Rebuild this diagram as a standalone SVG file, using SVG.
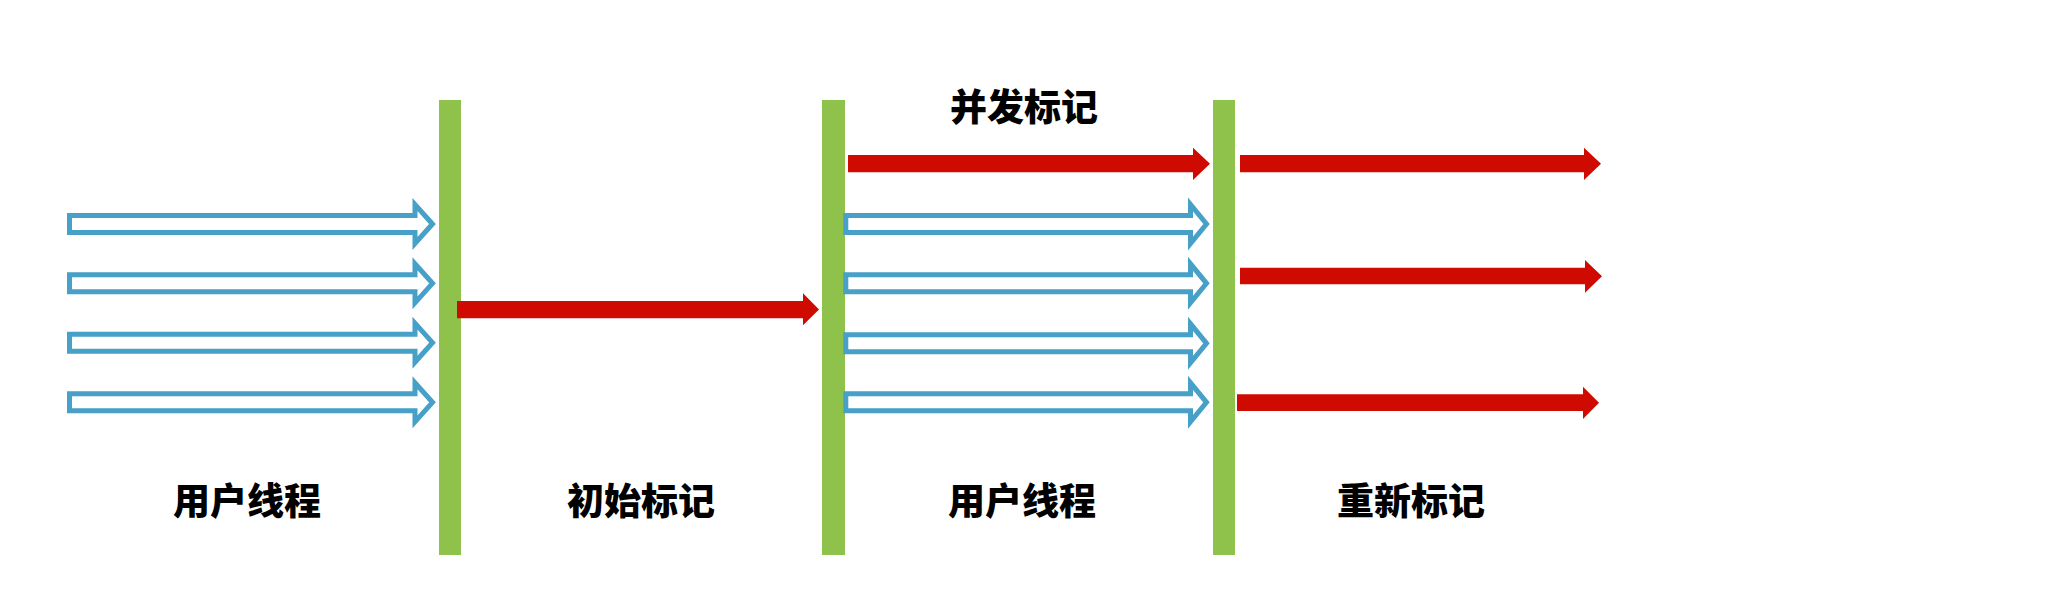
<svg xmlns="http://www.w3.org/2000/svg" width="2061" height="597" viewBox="0 0 2061 597">
<style>
.bar{fill:#8FC24A}
.blue{fill:#FFFFFF;stroke:#46A0C8;stroke-width:5;stroke-linejoin:miter}
.red{fill:#CF0A00}
.lbl{font-family:"Noto Sans CJK SC","Noto Sans",sans-serif;font-weight:900;font-size:37px;fill:#000000;text-anchor:middle}
</style>
<rect width="2061" height="597" fill="#FFFFFF"/>
<g id="bar1"><rect class="bar" x="439" y="100" width="22" height="455"/></g>
<g id="bar2"><rect class="bar" x="822" y="100" width="23" height="455"/></g>
<g id="bar3"><rect class="bar" x="1213" y="100" width="22" height="455"/></g>
<g id="connectors">
<polygon class="blue" points="69.5,215.5 415,215.5 415,204.5 432.5,224 415,243.5 415,232.5 69.5,232.5"/>
<polygon class="blue" points="69.5,274.8 415,274.8 415,263.8 432.5,283.3 415,302.8 415,291.8 69.5,291.8"/>
<polygon class="blue" points="69.5,334.2 415,334.2 415,323.2 432.5,342.7 415,362.2 415,351.2 69.5,351.2"/>
<polygon class="blue" points="69.5,393.8 415,393.8 415,382.8 432.5,402.3 415,421.8 415,410.8 69.5,410.8"/>
<polygon class="blue" points="845.8,215.5 1190.5,215.5 1190.5,204.5 1206.5,224 1190.5,243.5 1190.5,232.5 845.8,232.5"/>
<polygon class="blue" points="845.8,274.8 1190.5,274.8 1190.5,263.8 1206.5,283.3 1190.5,302.8 1190.5,291.8 845.8,291.8"/>
<polygon class="blue" points="845.8,334.8 1190.5,334.8 1190.5,323.8 1206.5,343.3 1190.5,362.8 1190.5,351.8 845.8,351.8"/>
<polygon class="blue" points="845.8,393.8 1190.5,393.8 1190.5,382.8 1206.5,402.3 1190.5,421.8 1190.5,410.8 845.8,410.8"/>
<polygon class="red" points="457,301 803,301 803,293.3 819,309.6 803,325.3 803,318.3 457,318.3"/>
<polygon class="red" points="848,155 1193,155 1193,147.7 1210,163.8 1193,180 1193,172.3 848,172.3"/>
<polygon class="red" points="1240,155 1584,155 1584,147.7 1601,163.8 1584,180 1584,172.3 1240,172.3"/>
<polygon class="red" points="1240,267.7 1585,267.7 1585,260 1602,276.3 1585,292.7 1585,284.3 1240,284.3"/>
<polygon class="red" points="1237,394.3 1583,394.3 1583,386.7 1599,402.7 1583,419 1583,411 1237,411"/>
</g>
<g id="label-user1"><text class="lbl" x="247" y="515">用户线程</text></g>
<g id="label-initial"><text class="lbl" x="641" y="515">初始标记</text></g>
<g id="label-user2"><text class="lbl" x="1022" y="515">用户线程</text></g>
<g id="label-remark"><text class="lbl" x="1411" y="515">重新标记</text></g>
<g id="label-concurrent"><text class="lbl" x="1024" y="121">并发标记</text></g>
</svg>
